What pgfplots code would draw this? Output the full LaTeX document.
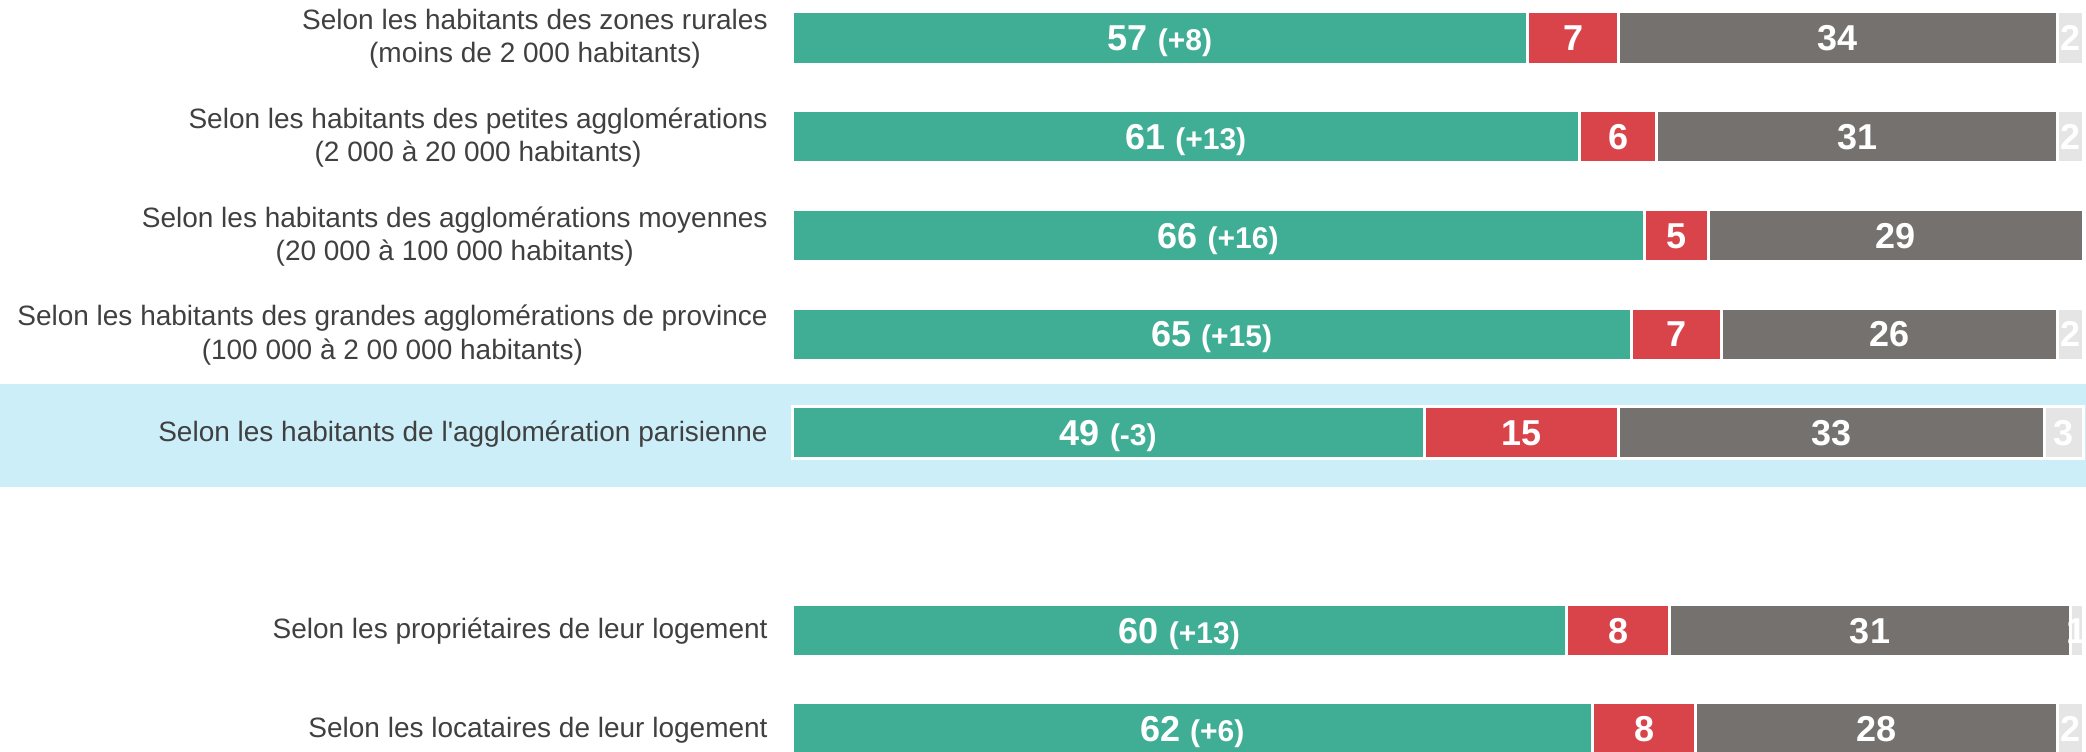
\documentclass[border=0pt]{standalone}
\usepackage{pgfplots}
\pgfplotsset{compat=1.18}
\usepackage{fontspec}
\setmainfont{Liberation Sans}
\definecolor{cgreen}{HTML}{3FAE95}
\definecolor{cred}{HTML}{D9444B}
\definecolor{cgrey}{HTML}{75716F}
\definecolor{clight}{HTML}{E5E5E5}
\definecolor{cband}{HTML}{CCEEF9}
\definecolor{clabel}{HTML}{404040}
\protected\def\dl#1{{\fontsize{15}{16}\selectfont(#1)}}
\pgfplotsset{
  base/.style={
    at={(396pt,0pt)}, anchor=south west,
    scale only axis, width=645.5pt, height=375.5pt,
    xmin=0, xmax=100, ymin=-0.385, ymax=7.224, y dir=reverse,
    axis line style={draw=none}, tick style={draw=none},
    xtick=\empty, clip=false,
  }
}
\begin{document}
\begin{tikzpicture}
\begin{axis}[base, ytick=\empty]
\addplot[fill=cband, draw=none] coordinates {(-70,3.506) (110,3.506) (110,4.549) (-70,4.549)} -- cycle;
\end{axis}
\begin{axis}[base,
  xbar stacked, bar width=26pt,
  ytick={0,1,2,3,4,6,7},
  yticklabels={
    {Selon les habitants des zones rurales\\(moins de 2 000 habitants)},
    {Selon les habitants des petites agglomérations\\(2 000 à 20 000 habitants)},
    {Selon les habitants des agglomérations moyennes\\(20 000 à 100 000 habitants)},
    {Selon les habitants des grandes agglomérations de province\\(100 000 à 2 00 000 habitants)},
    {Selon les habitants de l\textquotesingle agglomération parisienne},
    {Selon les propriétaires de leur logement},
    {Selon les locataires de leur logement}},
  yticklabel style={align=center, font=\fontsize{14}{16.6}\selectfont, text=clabel, inner sep=0pt, xshift=-12pt, yshift=-0.5pt},
  every axis plot/.append style={draw=white, line width=1.5pt},
]
\addplot[fill=cgreen] coordinates {(57,0) (61,1) (66,2) (65,3) (49,4) (60,6) (62,7)};
\addplot[fill=cred] coordinates {(7,0) (6,1) (5,2) (7,3) (15,4) (8,6) (8,7)};
\addplot[fill=cgrey] coordinates {(34,0) (31,1) (29,2) (26,3) (33,4) (31,6) (28,7)};
\addplot[fill=clight] coordinates {(2,0) (2,1) (0,2) (2,3) (3,4) (1,6) (2,7)};
\end{axis}
\begin{axis}[base, ytick=\empty]
\addplot[only marks, mark=none, draw=none, point meta=explicit symbolic,
  nodes near coords, nodes near coords align=center,
  every node near coord/.append style={anchor=base, yshift=-6.4pt, text=white, font=\fontsize{18}{19}\selectfont\bfseries}]
  coordinates {
  (28.5,0) [57 \dl{+8}] (60.5,0) [7] (81,0) [34] (99,0) [2]
  (30.5,1) [61 \dl{+13}] (64,1) [6] (82.5,1) [31] (99,1) [2]
  (33,2) [66 \dl{+16}] (68.5,2) [5] (85.5,2) [29]
  (32.5,3) [65 \dl{+15}] (68.5,3) [7] (85,3) [26] (99,3) [2]
  (24.5,4) [49 \dl{-3}] (56.5,4) [15] (80.5,4) [33] (98.5,4) [3]
  (30,6) [60 \dl{+13}] (64,6) [8] (83.5,6) [31] (99.5,6) [1]
  (31,7) [62 \dl{+6}] (66,7) [8] (84,7) [28] (99,7) [2]
  };
\end{axis}
\pgfresetboundingbox
\useasboundingbox (0,0) rectangle (1043pt,375.5pt);
\end{tikzpicture}
\end{document}
